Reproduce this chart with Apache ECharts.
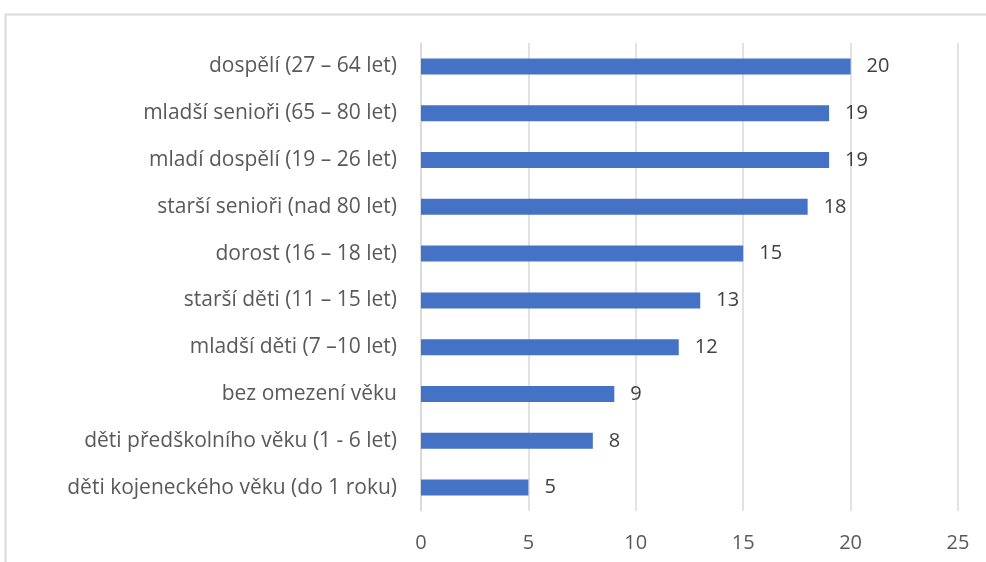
<!DOCTYPE html>
<html>
<head>
<meta charset="utf-8">
<script src="https://cdn.jsdelivr.net/npm/echarts@6/dist/echarts.min.js"></script>
<style>
  html, body { margin: 0; padding: 0; background: #fff; }
  #chart { width: 986px; height: 562px; }
</style>
</head>
<body>
<div id="chart"></div>
<script>
// categories from bottom to top
const categories = [
  "děti kojeneckého věku (do 1 roku)",
  "děti předškolního věku (1 - 6 let)",
  "bez omezení věku",
  "mladší děti (7 –10 let)",
  "starší děti (11 – 15 let)",
  "dorost (16 – 18 let)",
  "starší senioři (nad 80 let)",
  "mladí dospělí (19 – 26 let)",
  "mladší senioři (65 – 80 let)",
  "dospělí (27 – 64 let)"
];
const values = [5, 8, 9, 12, 13, 15, 18, 19, 19, 20];
const axisMax = 25;
const axisStep = 5;

const chart = echarts.init(document.getElementById("chart"));
const option = {
  animation: false,
  textStyle: { fontFamily: "Open Sans" },
  graphic: [
    {
      type: "rect",
      shape: { x: 5.5, y: 14.5, width: 1100, height: 700 },
      style: { fill: "none", stroke: "#d9d9d9", lineWidth: 2 },
      silent: true
    }
  ],
  grid: {
    left: 421,
    right: 28,
    top: 43,
    bottom: 51
  },
  xAxis: {
    type: "value",
    min: 0,
    max: axisMax,
    interval: axisStep,
    axisLine: { show: false },
    axisTick: { show: false },
    splitLine: { lineStyle: { color: "#d9d9d9", width: 1.5 } },
    axisLabel: { color: "#595959", fontSize: 20, margin: 22 }
  },
  yAxis: {
    type: "category",
    data: categories,
    axisLine: { show: true, lineStyle: { color: "#d9d9d9", width: 1.5 } },
    axisTick: { show: false },
    axisLabel: { color: "#595959", fontSize: 21, margin: 24 }
  },
  series: [
    {
      type: "bar",
      data: values,
      barWidth: 16,
      itemStyle: { color: "#4472c4" },
      label: {
        show: true,
        position: "right",
        distance: 16,
        color: "#404040",
        fontSize: 20
      }
    }
  ]
};
chart.setOption(option);
window.addEventListener("resize", function () {
  chart.resize();
});
</script>
</body>
</html>
